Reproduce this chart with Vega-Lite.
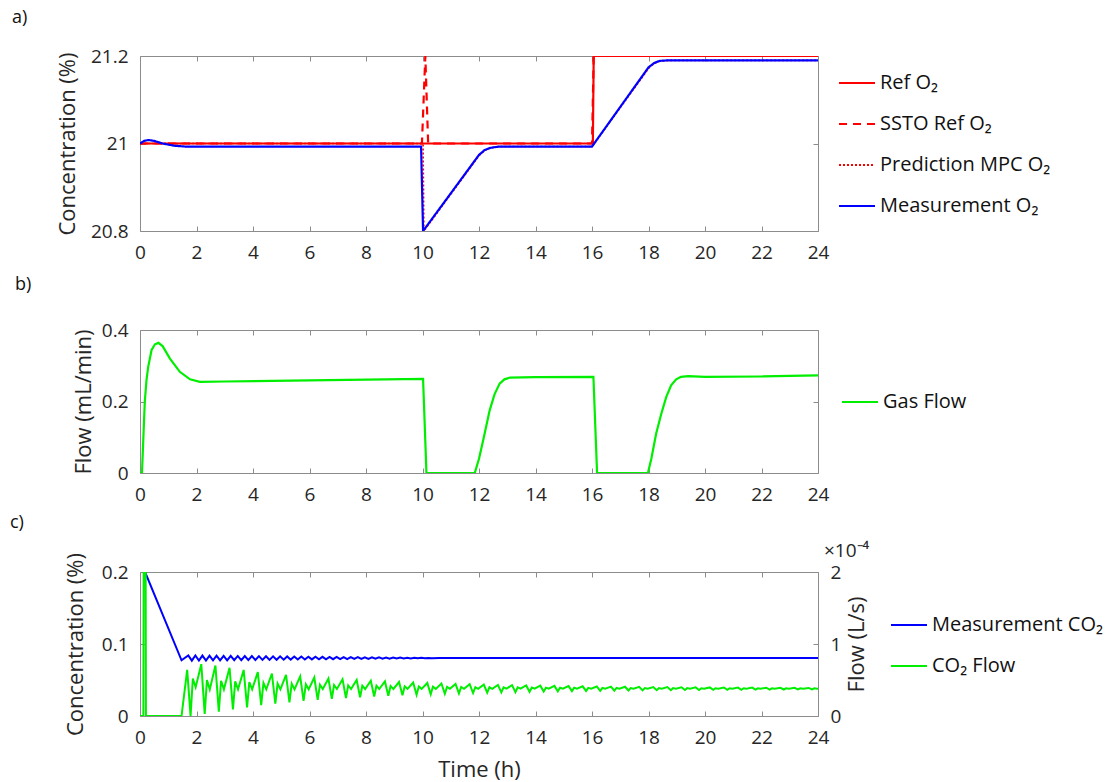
{
  "$schema": "https://vega.github.io/schema/vega-lite/v6.json",
  "padding": {"left": 9, "top": 8, "right": 5, "bottom": 5},
  "bounds": "flush",
  "spacing": 99,
  "config": {
    "font": "Open Sans",
    "view": {"stroke": "#8c8c8c", "strokeWidth": 1},
    "axis": {"domain": false, "grid": false, "labelFlush": false, "tickColor": "#8c8c8c", "tickSize": -5, "labelFont": "Open Sans", "labelFontSize": 19, "labelColor": "#262626", "titleFont": "Open Sans", "titleFontSize": 22, "titleFontWeight": "normal", "titleColor": "#262626"},
    "legend": {"orient": "none", "symbolType": "stroke", "symbolSize": 1296, "symbolStrokeWidth": 2, "labelFont": "Open Sans", "labelFontSize": 20, "labelColor": "#111111", "labelLimit": 400, "rowPadding": 12, "labelOffset": 4, "padding": 0},
    "title": {"font": "Open Sans", "fontSize": 18, "fontWeight": "normal", "color": "#111111", "anchor": "start", "frame": "group"}
  },
  "resolve": {"scale": {"color": "independent", "strokeDash": "independent"}},
  "vconcat": [
    {
      "width": 678, "height": 175,
      "title": {"text": "a)", "dx": -128, "offset": 20},
      "resolve": {"axis": {"x": "independent", "y": "independent"}},
      "layer": [
        {
          "data": {"values": [{"t":0,"v":21,"s":"Ref O₂"},{"t":16.03,"v":21,"s":"Ref O₂"},{"t":16.06,"v":21.2,"s":"Ref O₂"},{"t":24,"v":21.2,"s":"Ref O₂"}]},
          "mark": {"type": "line", "strokeWidth": 2.2, "clip": true},
          "encoding": {
            "x": {"field": "t", "type": "quantitative", "scale": {"domain": [0, 24], "nice": false}, "axis": {"values": [0,2,4,6,8,10,12,14,16,18,20,22,24], "labelExpr": "'' + datum.value", "labelPadding": 17, "title": null}},
            "y": {"field": "v", "type": "quantitative", "scale": {"domain": [20.8, 21.2], "nice": false, "zero": false}, "axis": {"values": [20.8, 21, 21.2], "labelExpr": "'' + datum.value", "labelPadding": 17, "title": "Concentration (%)", "titlePadding": 11}},
            "color": {"field": "s", "type": "nominal", "scale": {"domain": ["Ref O₂", "SSTO Ref O₂", "Prediction MPC O₂", "Measurement O₂"], "range": ["#ff0000", "#ff0000", "#ff0000", "#0000ff"]}, "legend": {"title": null, "legendX": 698, "legendY": 8}},
            "strokeDash": {"field": "s", "type": "nominal", "scale": {"domain": ["Ref O₂", "SSTO Ref O₂", "Prediction MPC O₂", "Measurement O₂"], "range": [[1, 0], [8, 6], [2, 2], [1, 0]]}, "legend": {"title": null, "legendX": 698, "legendY": 8}}
          }
        },
        {
          "data": {"values": [{"t":0,"v":21,"s":"SSTO Ref O₂"},{"t":9.98,"v":21,"s":"SSTO Ref O₂"},{"t":10.1,"v":21.2,"s":"SSTO Ref O₂"},{"t":10.2,"v":21,"s":"SSTO Ref O₂"},{"t":16.0,"v":21,"s":"SSTO Ref O₂"},{"t":16.06,"v":21.2,"s":"SSTO Ref O₂"},{"t":24,"v":21.2,"s":"SSTO Ref O₂"}]},
          "mark": {"type": "line", "strokeWidth": 2.2, "clip": true},
          "encoding": {
            "x": {"field": "t", "type": "quantitative", "axis": null},
            "y": {"field": "v", "type": "quantitative", "axis": null},
            "color": {"field": "s", "type": "nominal"},
            "strokeDash": {"field": "s", "type": "nominal"}
          }
        },
        {
          "data": {"values": [{"t":0,"v":21,"s":"Prediction MPC O₂"},{"t":10.02,"v":21,"s":"Prediction MPC O₂"},{"t":10.05,"v":20.8,"s":"Prediction MPC O₂"},{"t":11,"v":20.884,"s":"Prediction MPC O₂"},{"t":12,"v":20.972,"s":"Prediction MPC O₂"},{"t":12.2,"v":20.984,"s":"Prediction MPC O₂"},{"t":12.4,"v":20.99,"s":"Prediction MPC O₂"},{"t":12.7,"v":20.993,"s":"Prediction MPC O₂"},{"t":16,"v":20.993,"s":"Prediction MPC O₂"},{"t":18.02,"v":21.173,"s":"Prediction MPC O₂"},{"t":18.2,"v":21.183,"s":"Prediction MPC O₂"},{"t":18.4,"v":21.188,"s":"Prediction MPC O₂"},{"t":18.7,"v":21.19,"s":"Prediction MPC O₂"},{"t":24,"v":21.19,"s":"Prediction MPC O₂"}]},
          "mark": {"type": "line", "strokeWidth": 1.6, "clip": true},
          "encoding": {
            "x": {"field": "t", "type": "quantitative", "axis": null},
            "y": {"field": "v", "type": "quantitative", "axis": null},
            "color": {"field": "s", "type": "nominal"},
            "strokeDash": {"field": "s", "type": "nominal"}
          }
        },
        {
          "data": {"values": [{"t":0,"v":21.0,"s":"Measurement O₂"},{"t":0.15,"v":21.006,"s":"Measurement O₂"},{"t":0.3,"v":21.008,"s":"Measurement O₂"},{"t":0.5,"v":21.006,"s":"Measurement O₂"},{"t":0.8,"v":21.0,"s":"Measurement O₂"},{"t":1.2,"v":20.995,"s":"Measurement O₂"},{"t":1.6,"v":20.993,"s":"Measurement O₂"},{"t":9.95,"v":20.993,"s":"Measurement O₂"},{"t":10.02,"v":20.8,"s":"Measurement O₂"},{"t":11,"v":20.886,"s":"Measurement O₂"},{"t":12,"v":20.974,"s":"Measurement O₂"},{"t":12.2,"v":20.985,"s":"Measurement O₂"},{"t":12.4,"v":20.99,"s":"Measurement O₂"},{"t":12.7,"v":20.993,"s":"Measurement O₂"},{"t":16.0,"v":20.993,"s":"Measurement O₂"},{"t":18.0,"v":21.174,"s":"Measurement O₂"},{"t":18.2,"v":21.184,"s":"Measurement O₂"},{"t":18.4,"v":21.189,"s":"Measurement O₂"},{"t":18.7,"v":21.19,"s":"Measurement O₂"},{"t":24,"v":21.19,"s":"Measurement O₂"}]},
          "mark": {"type": "line", "strokeWidth": 2.2, "clip": true},
          "encoding": {
            "x": {"field": "t", "type": "quantitative", "axis": {"orient": "top", "labels": false, "title": null, "values": [0,2,4,6,8,10,12,14,16,18,20,22,24]}},
            "y": {"field": "v", "type": "quantitative", "axis": {"orient": "right", "labels": false, "title": null, "values": [20.8, 21, 21.2]}},
            "color": {"field": "s", "type": "nominal"},
            "strokeDash": {"field": "s", "type": "nominal"}
          }
        }
      ]
    },
    {
      "width": 678, "height": 143,
      "title": {"text": "b)", "dx": -125, "offset": 27},
      "resolve": {"axis": {"x": "independent", "y": "independent"}},
      "data": {"values": [{"t":0,"f":0,"s":"Gas Flow"},{"t":0.07,"f":0,"s":"Gas Flow"},{"t":0.12,"f":0.1,"s":"Gas Flow"},{"t":0.17,"f":0.2,"s":"Gas Flow"},{"t":0.23,"f":0.26,"s":"Gas Flow"},{"t":0.29,"f":0.297,"s":"Gas Flow"},{"t":0.41,"f":0.344,"s":"Gas Flow"},{"t":0.53,"f":0.36,"s":"Gas Flow"},{"t":0.65,"f":0.364,"s":"Gas Flow"},{"t":0.8,"f":0.355,"s":"Gas Flow"},{"t":1.06,"f":0.32,"s":"Gas Flow"},{"t":1.41,"f":0.283,"s":"Gas Flow"},{"t":1.77,"f":0.262,"s":"Gas Flow"},{"t":2.12,"f":0.255,"s":"Gas Flow"},{"t":3,"f":0.256,"s":"Gas Flow"},{"t":6,"f":0.259,"s":"Gas Flow"},{"t":10.02,"f":0.2635,"s":"Gas Flow"},{"t":10.14,"f":0,"s":"Gas Flow"},{"t":11.85,"f":0,"s":"Gas Flow"},{"t":12.0,"f":0.04,"s":"Gas Flow"},{"t":12.15,"f":0.092,"s":"Gas Flow"},{"t":12.38,"f":0.176,"s":"Gas Flow"},{"t":12.55,"f":0.22,"s":"Gas Flow"},{"t":12.73,"f":0.25,"s":"Gas Flow"},{"t":12.9,"f":0.262,"s":"Gas Flow"},{"t":13.1,"f":0.267,"s":"Gas Flow"},{"t":14,"f":0.268,"s":"Gas Flow"},{"t":16.05,"f":0.269,"s":"Gas Flow"},{"t":16.18,"f":0,"s":"Gas Flow"},{"t":17.98,"f":0,"s":"Gas Flow"},{"t":18.1,"f":0.04,"s":"Gas Flow"},{"t":18.27,"f":0.11,"s":"Gas Flow"},{"t":18.45,"f":0.165,"s":"Gas Flow"},{"t":18.63,"f":0.213,"s":"Gas Flow"},{"t":18.8,"f":0.245,"s":"Gas Flow"},{"t":18.98,"f":0.262,"s":"Gas Flow"},{"t":19.15,"f":0.269,"s":"Gas Flow"},{"t":19.4,"f":0.271,"s":"Gas Flow"},{"t":20,"f":0.269,"s":"Gas Flow"},{"t":22,"f":0.27,"s":"Gas Flow"},{"t":24,"f":0.273,"s":"Gas Flow"}]},
      "layer": [
        {
          "mark": {"type": "line", "strokeWidth": 2.2, "clip": true},
          "encoding": {
            "x": {"field": "t", "type": "quantitative", "scale": {"domain": [0, 24], "nice": false}, "axis": {"values": [0,2,4,6,8,10,12,14,16,18,20,22,24], "labelExpr": "'' + datum.value", "labelPadding": 17, "title": null}},
            "y": {"field": "f", "type": "quantitative", "scale": {"domain": [0, 0.4], "nice": false}, "axis": {"values": [0, 0.2, 0.4], "labelExpr": "'' + datum.value", "labelPadding": 17, "title": "Flow (mL/min)", "titlePadding": 6}},
            "color": {"field": "s", "type": "nominal", "scale": {"domain": ["Gas Flow"], "range": ["#00ee00"]}, "legend": {"title": null, "legendX": 701, "legendY": 53}}
          }
        },
        {
          "mark": {"type": "line", "opacity": 0},
          "encoding": {
            "x": {"field": "t", "type": "quantitative", "axis": {"orient": "top", "labels": false, "title": null, "values": [0,2,4,6,8,10,12,14,16,18,20,22,24]}},
            "y": {"field": "f", "type": "quantitative", "axis": {"orient": "right", "labels": false, "title": null, "values": [0, 0.2, 0.4]}}
          }
        }
      ]
    },
    {
      "width": 678, "height": 144,
      "title": {"text": "c)", "dx": -130, "offset": 10},
      "resolve": {"scale": {"y": "independent"}, "axis": {"x": "independent", "y": "independent"}},
      "layer": [
        {
          "data": {"values": [{"t":0.18,"c":0.2},{"t":1.47,"c":0.0774},{"t":1.71,"c":0.0841},{"t":1.835,"c":0.0769},{"t":1.96,"c":0.084},{"t":2.085,"c":0.077},{"t":2.21,"c":0.0839},{"t":2.335,"c":0.0771},{"t":2.46,"c":0.0838},{"t":2.585,"c":0.0772},{"t":2.71,"c":0.0837},{"t":2.835,"c":0.0773},{"t":2.96,"c":0.0836},{"t":3.085,"c":0.0774},{"t":3.21,"c":0.0835},{"t":3.335,"c":0.0775},{"t":3.46,"c":0.0834},{"t":3.585,"c":0.0776},{"t":3.71,"c":0.0833},{"t":3.835,"c":0.0777},{"t":3.96,"c":0.0832},{"t":4.085,"c":0.0778},{"t":4.21,"c":0.0831},{"t":4.335,"c":0.0779},{"t":4.46,"c":0.083},{"t":4.585,"c":0.078},{"t":4.71,"c":0.0829},{"t":4.835,"c":0.0781},{"t":4.96,"c":0.0828},{"t":5.085,"c":0.0782},{"t":5.21,"c":0.0827},{"t":5.335,"c":0.0783},{"t":5.46,"c":0.0826},{"t":5.585,"c":0.0784},{"t":5.71,"c":0.0825},{"t":5.835,"c":0.0785},{"t":5.96,"c":0.0824},{"t":6.085,"c":0.0786},{"t":6.21,"c":0.0823},{"t":6.335,"c":0.0787},{"t":6.46,"c":0.0822},{"t":6.585,"c":0.0788},{"t":6.71,"c":0.0821},{"t":6.835,"c":0.0789},{"t":6.96,"c":0.082},{"t":7.085,"c":0.079},{"t":7.21,"c":0.0819},{"t":7.335,"c":0.0791},{"t":7.46,"c":0.0818},{"t":7.585,"c":0.0792},{"t":7.71,"c":0.0817},{"t":7.835,"c":0.0793},{"t":7.96,"c":0.0816},{"t":8.085,"c":0.0794},{"t":8.21,"c":0.0815},{"t":8.335,"c":0.0795},{"t":8.46,"c":0.0814},{"t":8.585,"c":0.0796},{"t":8.71,"c":0.0813},{"t":8.835,"c":0.0797},{"t":8.96,"c":0.0812},{"t":9.085,"c":0.0798},{"t":9.21,"c":0.0811},{"t":9.335,"c":0.0799},{"t":9.46,"c":0.081},{"t":9.585,"c":0.08},{"t":9.71,"c":0.0809},{"t":9.835,"c":0.0801},{"t":9.96,"c":0.0808},{"t":10.085,"c":0.0802},{"t":10.21,"c":0.0806},{"t":10.335,"c":0.0803},{"t":10.6,"c":0.0804},{"t":24,"c":0.0804}]},
          "mark": {"type": "line", "strokeWidth": 2, "clip": true},
          "encoding": {
            "x": {"field": "t", "type": "quantitative", "scale": {"domain": [0, 24], "nice": false}, "axis": {"values": [0,2,4,6,8,10,12,14,16,18,20,22,24], "labelExpr": "'' + datum.value", "labelPadding": 17, "title": "Time (h)", "titlePadding": 12}},
            "y": {"field": "c", "type": "quantitative", "scale": {"domain": [0, 0.2], "nice": false}, "axis": {"values": [0, 0.1, 0.2], "labelExpr": "'' + datum.value", "labelPadding": 17, "title": "Concentration (%)", "titlePadding": 14}},
            "color": {"datum": "Measurement CO₂", "type": "nominal", "scale": {"domain": ["Measurement CO₂", "CO₂ Flow"], "range": ["#0000ff", "#00ee00"]}, "legend": {"title": null, "legendX": 750, "legendY": 34}}
          }
        },
        {
          "data": {"values": [{"t":0,"f":0},{"t":0.12,"f":0},{"t":0.13,"f":2},{"t":0.2,"f":2},{"t":0.21,"f":0},{"t":1.47,"f":0},{"t":1.67,"f":0.64},{"t":1.79,"f":0},{"t":1.87,"f":0.52},{"t":1.97,"f":0.4},{"t":2.17,"f":0.72},{"t":2.29,"f":0.03},{"t":2.37,"f":0.5},{"t":2.47,"f":0.37},{"t":2.67,"f":0.7},{"t":2.79,"f":0.06},{"t":2.87,"f":0.49},{"t":2.97,"f":0.37},{"t":3.17,"f":0.67},{"t":3.29,"f":0.09},{"t":3.37,"f":0.48},{"t":3.47,"f":0.37},{"t":3.67,"f":0.64},{"t":3.79,"f":0.12},{"t":3.87,"f":0.47},{"t":3.97,"f":0.37},{"t":4.17,"f":0.61},{"t":4.29,"f":0.15},{"t":4.37,"f":0.46},{"t":4.47,"f":0.37},{"t":4.67,"f":0.59},{"t":4.79,"f":0.17},{"t":4.87,"f":0.45},{"t":4.97,"f":0.37},{"t":5.17,"f":0.57},{"t":5.29,"f":0.19},{"t":5.37,"f":0.45},{"t":5.47,"f":0.37},{"t":5.67,"f":0.55},{"t":5.79,"f":0.21},{"t":5.87,"f":0.44},{"t":5.97,"f":0.37},{"t":6.17,"f":0.535},{"t":6.29,"f":0.225},{"t":6.37,"f":0.435},{"t":6.47,"f":0.375},{"t":6.67,"f":0.52},{"t":6.79,"f":0.24},{"t":6.87,"f":0.43},{"t":6.97,"f":0.375},{"t":7.17,"f":0.51},{"t":7.29,"f":0.25},{"t":7.37,"f":0.425},{"t":7.47,"f":0.375},{"t":7.67,"f":0.5},{"t":7.79,"f":0.26},{"t":7.87,"f":0.42},{"t":7.97,"f":0.375},{"t":8.17,"f":0.49},{"t":8.29,"f":0.27},{"t":8.37,"f":0.42},{"t":8.47,"f":0.375},{"t":8.67,"f":0.48},{"t":8.79,"f":0.28},{"t":8.87,"f":0.415},{"t":8.97,"f":0.375},{"t":9.17,"f":0.472},{"t":9.29,"f":0.288},{"t":9.37,"f":0.412},{"t":9.47,"f":0.377},{"t":9.67,"f":0.465},{"t":9.79,"f":0.295},{"t":9.87,"f":0.41},{"t":9.97,"f":0.377},{"t":10.17,"f":0.458},{"t":10.29,"f":0.302},{"t":10.37,"f":0.407},{"t":10.47,"f":0.377},{"t":10.67,"f":0.452},{"t":10.79,"f":0.308},{"t":10.87,"f":0.405},{"t":10.97,"f":0.378},{"t":11.17,"f":0.446},{"t":11.29,"f":0.314},{"t":11.37,"f":0.403},{"t":11.47,"f":0.378},{"t":11.67,"f":0.441},{"t":11.79,"f":0.319},{"t":11.87,"f":0.401},{"t":11.97,"f":0.378},{"t":12.17,"f":0.436},{"t":12.29,"f":0.324},{"t":12.37,"f":0.399},{"t":12.47,"f":0.378},{"t":12.67,"f":0.432},{"t":12.79,"f":0.328},{"t":12.87,"f":0.398},{"t":12.97,"f":0.379},{"t":13.17,"f":0.428},{"t":13.29,"f":0.332},{"t":13.37,"f":0.397},{"t":13.47,"f":0.379},{"t":13.67,"f":0.424},{"t":13.79,"f":0.336},{"t":13.87,"f":0.395},{"t":13.97,"f":0.379},{"t":14.17,"f":0.421},{"t":14.29,"f":0.339},{"t":14.37,"f":0.394},{"t":14.47,"f":0.379},{"t":14.67,"f":0.418},{"t":14.79,"f":0.342},{"t":14.87,"f":0.393},{"t":14.97,"f":0.38},{"t":15.17,"f":0.415},{"t":15.29,"f":0.345},{"t":15.37,"f":0.392},{"t":15.47,"f":0.38},{"t":15.67,"f":0.412},{"t":15.79,"f":0.348},{"t":15.87,"f":0.391},{"t":15.97,"f":0.38},{"t":16.17,"f":0.41},{"t":16.29,"f":0.35},{"t":16.37,"f":0.39},{"t":16.47,"f":0.38},{"t":16.67,"f":0.408},{"t":16.79,"f":0.352},{"t":16.87,"f":0.39},{"t":16.97,"f":0.38},{"t":17.17,"f":0.406},{"t":17.29,"f":0.354},{"t":17.37,"f":0.389},{"t":17.47,"f":0.38},{"t":17.67,"f":0.404},{"t":17.79,"f":0.356},{"t":17.87,"f":0.388},{"t":17.97,"f":0.38},{"t":18.17,"f":0.402},{"t":18.29,"f":0.358},{"t":18.37,"f":0.388},{"t":18.47,"f":0.38},{"t":18.67,"f":0.401},{"t":18.79,"f":0.359},{"t":18.87,"f":0.387},{"t":18.97,"f":0.38},{"t":19.17,"f":0.399},{"t":19.29,"f":0.361},{"t":19.37,"f":0.387},{"t":19.47,"f":0.38},{"t":19.67,"f":0.398},{"t":19.79,"f":0.362},{"t":19.87,"f":0.386},{"t":19.97,"f":0.38},{"t":20.17,"f":0.397},{"t":20.29,"f":0.363},{"t":20.37,"f":0.386},{"t":20.47,"f":0.38},{"t":20.67,"f":0.396},{"t":20.79,"f":0.364},{"t":20.87,"f":0.386},{"t":20.97,"f":0.38},{"t":21.17,"f":0.395},{"t":21.29,"f":0.365},{"t":21.37,"f":0.385},{"t":21.47,"f":0.38},{"t":21.67,"f":0.394},{"t":21.79,"f":0.366},{"t":21.87,"f":0.385},{"t":21.97,"f":0.38},{"t":22.17,"f":0.393},{"t":22.29,"f":0.367},{"t":22.37,"f":0.385},{"t":22.47,"f":0.38},{"t":22.67,"f":0.392},{"t":22.79,"f":0.368},{"t":22.87,"f":0.384},{"t":22.97,"f":0.38},{"t":23.17,"f":0.391},{"t":23.29,"f":0.369},{"t":23.37,"f":0.384},{"t":23.47,"f":0.38},{"t":23.67,"f":0.39},{"t":23.79,"f":0.37},{"t":23.87,"f":0.384},{"t":23.97,"f":0.38},{"t":24,"f":0.38}]},
          "mark": {"type": "line", "strokeWidth": 2, "clip": true},
          "encoding": {
            "x": {"field": "t", "type": "quantitative", "axis": null},
            "y": {"field": "f", "type": "quantitative", "scale": {"domain": [0, 2], "nice": false}, "axis": {"orient": "right", "values": [0, 1, 2], "labelExpr": "'' + datum.value", "labelPadding": 17, "title": "Flow (L/s)", "titleAngle": 270, "titleBaseline": "top", "titlePadding": 6}},
            "color": {"datum": "CO₂ Flow", "type": "nominal"}
          }
        },
        {
          "data": {"values": [{"t": 24, "f": 2, "label": "×10⁻⁴"}]},
          "mark": {"type": "text", "align": "left", "baseline": "alphabetic", "dx": 6, "dy": -15, "fontSize": 19, "font": "Open Sans", "color": "#262626"},
          "encoding": {
            "x": {"field": "t", "type": "quantitative", "axis": {"orient": "top", "labels": false, "title": null, "values": [0,2,4,6,8,10,12,14,16,18,20,22,24]}},
            "y": {"field": "f", "type": "quantitative", "scale": {"domain": [0, 2], "nice": false}, "axis": null},
            "text": {"field": "label"}
          }
        }
      ]
    }
  ]
}
